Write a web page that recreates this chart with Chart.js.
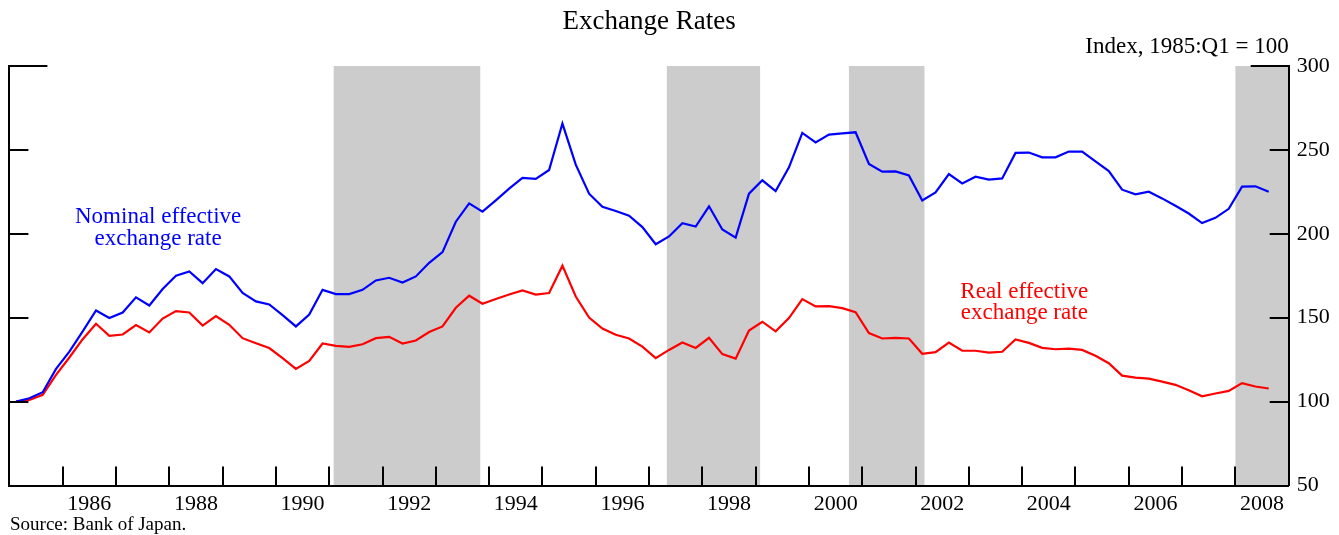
<!DOCTYPE html>
<html>
<head>
<meta charset="utf-8">
<title>Exchange Rates</title>
<script src="https://cdn.jsdelivr.net/npm/chart.js@4.4.1/dist/chart.umd.min.js"></script>
<style>
  html, body { margin: 0; padding: 0; background: #fff; }
  #wrap { width: 1339px; height: 535px; }
</style>
</head>
<body>
<div id="wrap"><canvas id="fx" width="1339" height="535"></canvas></div>
<script>
// quarterly series, 1985:Q1 .. 2008:Q3 (index, 1985:Q1 = 100)
const firstYear = 1985;
const nominal = [
  100.0, 102.0, 105.6, 119.5, 129.8, 141.8, 154.3, 149.8, 153.1, 162.1, 157.3, 167.1,
  175.0, 177.6, 170.6, 179.0, 174.6, 164.7, 159.7, 157.9, 151.5, 144.8, 151.9, 166.6,
  164.1, 164.1, 166.6, 172.2, 173.8, 171.0, 174.6, 182.7, 189.1, 207.2, 218.1, 213.2,
  219.9, 226.9, 233.3, 232.7, 238.0, 265.7, 241.2, 223.9, 216.1, 213.6, 210.8, 204.0,
  193.8, 198.4, 206.3, 204.3, 216.4, 202.6, 197.7, 223.9, 231.9, 225.5, 239.6, 260.1,
  254.5, 259.1, 259.9, 260.5, 241.6, 237.0, 237.2, 234.8, 219.9, 224.7, 235.6, 230.0,
  234.0, 232.3, 233.0, 248.2, 248.4, 245.6, 245.6, 249.0, 249.0, 243.2, 237.4, 226.3,
  223.5, 225.1, 221.1, 216.7, 212.1, 206.4, 209.5, 214.9, 228.1, 228.3, 225.1
];
const real = [
  100.0, 101.0, 104.0, 115.9, 126.3, 137.2, 146.4, 139.2, 140.0, 145.6, 141.2, 149.5,
  153.9, 153.1, 145.3, 151.0, 145.8, 137.8, 134.8, 131.9, 125.9, 119.5, 124.3, 134.6,
  133.2, 132.6, 134.2, 137.8, 138.6, 134.6, 136.4, 141.5, 144.8, 155.9, 163.1, 158.3,
  161.1, 163.8, 166.2, 163.8, 164.7, 181.0, 162.6, 150.1, 143.5, 139.8, 137.6, 132.8,
  125.9, 130.8, 135.2, 132.0, 138.0, 128.3, 125.6, 142.3, 147.6, 141.9, 149.8, 161.1,
  156.7, 156.9, 155.7, 153.3, 140.8, 137.6, 138.0, 137.6, 128.5, 129.5, 135.2, 130.3,
  130.3, 129.2, 129.7, 137.0, 135.0, 132.0, 131.2, 131.6, 130.8, 127.3, 122.9, 115.5,
  114.3, 113.7, 111.9, 110.0, 106.8, 103.2, 104.8, 106.4, 111.0, 109.0, 107.8
];

// shaded periods (fractional years)
const bandStart = [1991 + 1 / 12, 1997 + 4 / 12, 2000 + 9 / 12, 2008];
const bandEnd   = [1993 + 10 / 12, 1999 + 1 / 12, 2002 + 2 / 12, 2009];

const yTicks = [50, 100, 150, 200, 250, 300];

// each quarter plotted at its midpoint
const pts = (arr) => arr.map((v, i) => ({ x: firstYear + (i + 0.5) / 4, y: v }));

const SERIF = '"Liberation Serif", "Times New Roman", serif';
Chart.defaults.font.family = SERIF;
Chart.defaults.color = '#000';

const decor = {
  id: 'decor',
  beforeDraw(chart) {
    const { ctx, chartArea: a, scales: { x } } = chart;
    ctx.save();
    ctx.fillStyle = '#cccccc';
    bandStart.forEach((s, k) => {
      const x0 = x.getPixelForValue(s), x1 = x.getPixelForValue(bandEnd[k]);
      ctx.fillRect(x0, a.top, x1 - x0, a.bottom - a.top);
    });
    ctx.restore();
  },
  afterDatasetsDraw(chart) {
    const { ctx, chartArea: a, scales: { x, y } } = chart;
    ctx.save();
    ctx.strokeStyle = '#000';
    ctx.lineWidth = 2;
    ctx.beginPath();
    // inward ticks on both value axes (longer at the top)
    yTicks.forEach((v) => {
      const py = Math.round(y.getPixelForValue(v));
      const len = v === 300 ? 38 : 19;
      ctx.moveTo(a.left, py); ctx.lineTo(a.left + len, py);
      ctx.moveTo(a.right, py); ctx.lineTo(a.right - len, py);
    });
    // year ticks pointing up from the bottom axis
    for (let yr = firstYear + 1; yr < 2009; yr++) {
      const px = Math.round(x.getPixelForValue(yr));
      ctx.moveTo(px, a.bottom); ctx.lineTo(px, a.bottom - 19);
    }
    ctx.stroke();

    const cx = (a.left + a.right) / 2;
    ctx.textBaseline = 'middle';
    ctx.textAlign = 'center';
    ctx.fillStyle = '#000';
    ctx.font = '27px ' + SERIF;
    ctx.fillText('Exchange Rates', cx, 22);

    ctx.font = '23px ' + SERIF;
    ctx.textAlign = 'right';
    ctx.fillText('Index, 1985:Q1 = 100', a.right, 47);

    ctx.textAlign = 'left';
    ctx.font = '19px ' + SERIF;
    ctx.fillText('Source: Bank of Japan.', 10, 525);

    ctx.font = '23px ' + SERIF;
    ctx.textAlign = 'center';
    ctx.fillStyle = '#0000ff';
    ctx.fillText('Nominal effective', x.getPixelForValue(1987.79), y.getPixelForValue(210.2));
    ctx.fillText('exchange rate', x.getPixelForValue(1987.79), y.getPixelForValue(197.0));
    ctx.fillStyle = '#ff0000';
    ctx.fillText('Real effective', x.getPixelForValue(2004.04), y.getPixelForValue(165.6));
    ctx.fillText('exchange rate', x.getPixelForValue(2004.04), y.getPixelForValue(152.6));
    ctx.restore();
  }
};

new Chart(document.getElementById('fx'), {
  type: 'line',
  data: {
    datasets: [
      { label: 'Nominal effective exchange rate', data: pts(nominal), borderColor: '#0000ff',
        borderWidth: 2.2, pointRadius: 0, tension: 0, fill: false },
      { label: 'Real effective exchange rate', data: pts(real), borderColor: '#ff0000',
        borderWidth: 2.2, pointRadius: 0, tension: 0, fill: false },
    ],
  },
  options: {
    responsive: false,
    animation: false,
    devicePixelRatio: 1,
    layout: { padding: { top: 66, left: 0, right: 0, bottom: 0 } },
    plugins: { legend: { display: false }, tooltip: { enabled: false }, title: { display: false } },
    scales: {
      x: {
        type: 'linear', position: 'bottom', min: 1985, max: 2009,
        afterFit: (s) => { s.height = 49.5; },
        grid: { drawOnChartArea: false, drawTicks: false },
        border: { display: true, color: '#000', width: 2 },
        ticks: {
          stepSize: 1, autoSkip: false, maxRotation: 0, padding: 6,
          labelOffset: 26.67,
          font: { size: 22, family: SERIF }, color: '#000',
          callback: (v) => (v % 2 === 0 && v < 2009 ? String(v) : ''),
        },
      },
      y: {
        position: 'right', min: 50, max: 300,
        afterFit: (s) => { s.width = 50.3; },
        grid: { drawOnChartArea: false, drawTicks: false },
        border: { display: true, color: '#000', width: 2 },
        ticks: { stepSize: 50, padding: 8, font: { size: 22, family: SERIF }, color: '#000' },
      },
      yL: {
        position: 'left', min: 50, max: 300,
        afterFit: (s) => { s.width = 9.4; },
        grid: { drawOnChartArea: false, drawTicks: false },
        border: { display: true, color: '#000', width: 2 },
        ticks: { display: false },
      },
    },
  },
  plugins: [decor],
});
</script>
</body>
</html>
